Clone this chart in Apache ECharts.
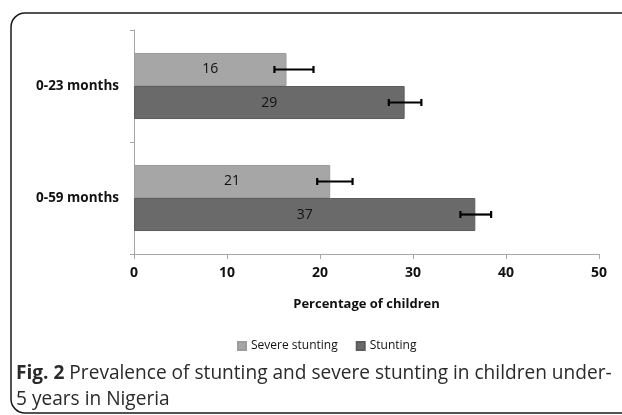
<!DOCTYPE html>
<html>
<head>
<meta charset="utf-8">
<script src="https://cdn.jsdelivr.net/npm/echarts@6/dist/echarts.min.js"></script>
<style>
html,body{margin:0;padding:0;background:#fff;}
#chart{width:622px;height:415px;}
</style>
</head>
<body>
<div id="chart"></div>
<script>
var categories = ['0-23 months', '0-59 months'];
var seriesNames = ['Severe stunting', 'Stunting'];
var severeValues = [16.4, 21.1];
var stuntingValues = [29.1, 36.7];
var severeLow = [15.1, 19.7];
var severeHigh = [19.3, 23.5];
var stuntingLow = [27.4, 35.1];
var stuntingHigh = [30.9, 38.4];
var xTicks = [0, 10, 20, 30, 40, 50];

var chart = echarts.init(document.getElementById('chart'));

var errData = [];
for (var i = 0; i < categories.length; i++) {
  errData.push([i, severeLow[i], severeHigh[i], 0]);
  errData.push([i, stuntingLow[i], stuntingHigh[i], 1]);
}
var catGap = 0.41;

function renderErr(params, api) {
  var ci = api.value(0), lo = api.value(1), hi = api.value(2), si = api.value(3);
  var band = api.size([0, 1])[1];
  var barW = band * (1 - catGap) / 2;
  var p1 = api.coord([lo, ci]);
  var p2 = api.coord([hi, ci]);
  var y = p1[1] + (si === 0 ? -barW / 2 : barW / 2);
  var cap = 3.5;
  var st = { stroke: '#000', lineWidth: 2.2 };
  return {
    type: 'group',
    children: [
      { type: 'line', shape: { x1: p1[0], y1: y, x2: p2[0], y2: y }, style: st },
      { type: 'line', shape: { x1: p1[0], y1: y - cap, x2: p1[0], y2: y + cap }, style: st },
      { type: 'line', shape: { x1: p2[0], y1: y - cap, x2: p2[0], y2: y + cap }, style: st }
    ]
  };
}

var option = {
  animation: false,
  textStyle: { fontFamily: 'Open Sans' },
  graphic: [
    { type: 'rect', shape: { x: 11, y: 13, width: 700, height: 400, r: 14 },
      style: { fill: 'none', stroke: '#1a1a1a', lineWidth: 1.5 }, z: 100 },
    { type: 'text', left: 16, top: 361,
      style: { text: '{b|Fig. 2} Prevalence of stunting and severe stunting in children under-\n5 years in Nigeria',
        fill: '#2a2a2a', font: '19.1px "Open Sans"', lineHeight: 26,
        rich: { b: { fontWeight: 'bold', fontSize: 19.1, fill: '#2a2a2a', fontFamily: 'Open Sans', lineHeight: 26 } } } }
  ],
  legend: {
    data: seriesNames,
    left: 232, top: 335,
    itemWidth: 8, itemHeight: 8, itemGap: 18,
    icon: 'rect',
    textStyle: { fontSize: 12, color: '#111', fontFamily: 'Open Sans' }
  },
  grid: { left: 134, right: 23, top: 30, bottom: 161, containLabel: false },
  xAxis: {
    type: 'value', min: 0, max: 50, interval: 10,
    name: 'Percentage of children', nameLocation: 'middle', nameGap: 44,
    nameTextStyle: { fontWeight: 'bold', fontSize: 13, color: '#111' },
    axisLine: { show: true, lineStyle: { color: '#a6a6a6', width: 1 } },
    axisTick: { show: true, length: 5, lineStyle: { color: '#a6a6a6' } },
    axisLabel: { fontWeight: 'bold', fontSize: 14, color: '#111', margin: 12,
      formatter: function (v) { return xTicks.indexOf(v) >= 0 ? String(v) : ''; } },
    splitLine: { show: false }
  },
  yAxis: {
    type: 'category', data: categories, inverse: true,
    axisLine: { show: true, lineStyle: { color: '#a6a6a6', width: 1 } },
    axisTick: { show: true, length: 4, lineStyle: { color: '#a6a6a6' } },
    axisLabel: { fontWeight: 'bold', fontSize: 13.5, color: '#111', margin: 15 }
  },
  series: [
    { name: seriesNames[0], type: 'bar', data: severeValues, barGap: '0%', barCategoryGap: '41%',
      itemStyle: { color: '#a6a6a6', borderColor: '#9c9c9c', borderWidth: 1 },
      label: { show: true, position: 'inside', fontSize: 14, color: '#111',
        formatter: function (p) { return Math.round(p.value); } } },
    { name: seriesNames[1], type: 'bar', data: stuntingValues, barGap: '0%', barCategoryGap: '41%',
      itemStyle: { color: '#6a6a6a', borderColor: '#5c5c5c', borderWidth: 1 },
      label: { show: true, position: 'inside', fontSize: 14, color: '#111',
        formatter: function (p) { return Math.round(p.value); } } },
    { type: 'custom', renderItem: renderErr, data: errData, z: 10, silent: true,
      encode: { x: [1, 2], y: 0 } }
  ]
};
chart.setOption(option);
</script>
</body>
</html>
